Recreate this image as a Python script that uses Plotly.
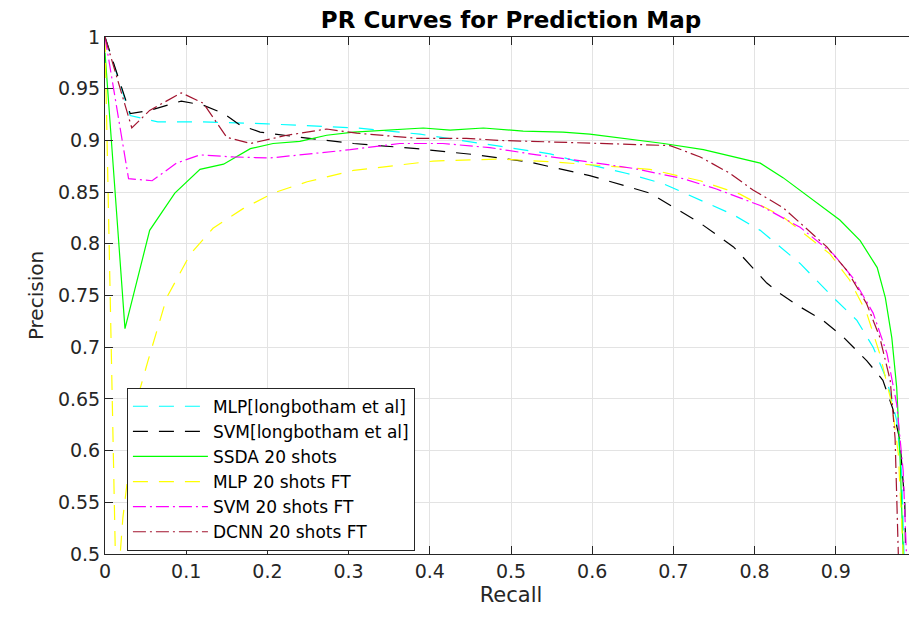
import plotly.graph_objects as go

# MLP [longbotham et al]
mlp_lb_recall = [0, 0.031, 0.065, 0.12, 0.2, 0.31, 0.388, 0.482, 0.548, 0.589, 0.643, 0.688, 0.733,
                 0.774, 0.807, 0.856, 0.897, 0.926, 0.946, 0.963, 0.975, 0.981, 0.984]
mlp_lb_prec = [1.0, 0.924, 0.918, 0.918, 0.916, 0.912, 0.906, 0.895, 0.887, 0.878, 0.868, 0.858, 0.842,
               0.828, 0.813, 0.781, 0.748, 0.726, 0.70, 0.668, 0.629, 0.58, 0.5]

# SVM [longbotham et al]
svm_lb_recall = [0, 0.031, 0.055, 0.094, 0.121, 0.146, 0.166, 0.191, 0.24, 0.306, 0.384, 0.458, 0.523,
                 0.597, 0.671, 0.733, 0.774, 0.815, 0.831, 0.856, 0.884, 0.909, 0.938, 0.958, 0.970,
                 0.979, 0.985, 0.986]
svm_lb_prec = [1.0, 0.926, 0.929, 0.938, 0.934, 0.926, 0.915, 0.908, 0.903, 0.897, 0.892, 0.886, 0.879,
               0.866, 0.849, 0.82, 0.797, 0.762, 0.752, 0.739, 0.726, 0.71, 0.687, 0.668, 0.641,
               0.61, 0.548, 0.5]

# SSDA 20 shots
ssda_recall = [0, 0.0246, 0.055, 0.086, 0.117, 0.146, 0.179, 0.207, 0.24, 0.273, 0.306, 0.392, 0.425,
               0.466, 0.515, 0.564, 0.597, 0.63, 0.688, 0.737, 0.782, 0.807, 0.835, 0.877, 0.905,
               0.93, 0.951, 0.961, 0.969, 0.975, 0.979, 0.983]
ssda_prec = [0.985, 0.718, 0.813, 0.849, 0.872, 0.877, 0.892, 0.897, 0.899, 0.905, 0.908, 0.912, 0.91,
             0.912, 0.909, 0.908, 0.906, 0.903, 0.897, 0.891, 0.883, 0.878, 0.864, 0.839, 0.823,
             0.803, 0.777, 0.748, 0.709, 0.661, 0.597, 0.5]

# MLP 20 shots FT
mlp_ft_recall = [0, 0.014, 0.022, 0.04, 0.053, 0.076, 0.105, 0.133, 0.17, 0.207, 0.249, 0.306, 0.404,
                 0.486, 0.556, 0.622, 0.671, 0.733, 0.782, 0.835, 0.893, 0.917, 0.938, 0.954, 0.969,
                 0.977, 0.983]
mlp_ft_prec = [1.0, 0.45, 0.535, 0.651, 0.687, 0.748, 0.79, 0.815, 0.834, 0.849, 0.86, 0.871, 0.88,
               0.882, 0.879, 0.875, 0.872, 0.861, 0.848, 0.826, 0.79, 0.765, 0.733, 0.694, 0.645,
               0.597, 0.5]

# SVM 20 shots FT
svm_ft_recall = [0, 0.029, 0.058, 0.088, 0.117, 0.158, 0.203, 0.24, 0.302, 0.363, 0.416, 0.474, 0.532,
                 0.597, 0.65, 0.712, 0.753, 0.807, 0.856, 0.897, 0.921, 0.946, 0.963, 0.975, 0.983, 0.987]
svm_ft_prec = [1.0, 0.863, 0.861, 0.878, 0.886, 0.884, 0.883, 0.886, 0.891, 0.897, 0.897, 0.893, 0.886,
               0.879, 0.873, 0.863, 0.853, 0.837, 0.816, 0.79, 0.767, 0.733, 0.694, 0.645, 0.58, 0.5]

# DCNN 20 shots FT
dcnn_recall = [0, 0.033, 0.055, 0.094, 0.121, 0.15, 0.179, 0.224, 0.273, 0.31, 0.384, 0.445, 0.486,
               0.569, 0.63, 0.696, 0.733, 0.77, 0.798, 0.835, 0.889, 0.914, 0.938, 0.954, 0.967,
               0.973, 0.977]
dcnn_prec = [1.0, 0.912, 0.929, 0.946, 0.936, 0.903, 0.897, 0.905, 0.911, 0.907, 0.902, 0.902, 0.9,
             0.898, 0.897, 0.895, 0.884, 0.868, 0.852, 0.835, 0.797, 0.774, 0.742, 0.71, 0.668,
             0.612, 0.5]

x_ticks = [0, 0.1, 0.2, 0.3, 0.4, 0.5, 0.6, 0.7, 0.8, 0.9, 1]
y_ticks = [0.5, 0.55, 0.6, 0.65, 0.7, 0.75, 0.8, 0.85, 0.9, 0.95, 1]

FONT = "DejaVu Sans, Liberation Sans, sans-serif"
AXIS_COLOR = "#262626"
DASH = "15px,11px"
DASHDOT = "13px,4px,2px,4px"

series = [
    ("MLP[longbotham et al]", mlp_lb_recall, mlp_lb_prec, "#00ffff", DASH),
    ("SVM[longbotham et al]", svm_lb_recall, svm_lb_prec, "#000000", DASH),
    ("SSDA 20 shots", ssda_recall, ssda_prec, "#00ff00", "solid"),
    ("MLP 20 shots FT", mlp_ft_recall, mlp_ft_prec, "#ffff00", DASH),
    ("SVM 20 shots FT", svm_ft_recall, svm_ft_prec, "#ff00ff", DASHDOT),
    ("DCNN 20 shots FT", dcnn_recall, dcnn_prec, "#a2142f", DASHDOT),
]

fig = go.Figure()
for name, r, p, color, dash in series:
    fig.add_trace(go.Scatter(x=r, y=p, mode="lines", name=name,
                             line=dict(color=color, width=1.2, dash=dash)))

axis_common = dict(
    showline=True, linecolor=AXIS_COLOR, linewidth=1, mirror="ticks",
    ticks="inside", ticklen=8, tickcolor=AXIS_COLOR,
    showgrid=True, gridcolor="#e3e3e3", gridwidth=1,
    zeroline=False, tickfont=dict(size=19, color=AXIS_COLOR, family=FONT),
)

fig.update_xaxes(range=[0, 1], tickvals=x_ticks, ticktext=[f"{t:g}" for t in x_ticks],
                 title=dict(text="Recall", font=dict(size=21, color=AXIS_COLOR), standoff=6),
                 **axis_common)
fig.update_yaxes(range=[0.5, 1], tickvals=y_ticks, ticktext=[f"{t:g}" for t in y_ticks],
                 title=dict(text="Precision", font=dict(size=20, color=AXIS_COLOR), standoff=8),
                 **axis_common)

# page body has an 8px margin, so the figure is shifted by that much
fig.update_layout(
    width=917, height=619,
    margin=dict(l=97, r=8, t=29, b=73, autoexpand=False),
    paper_bgcolor="white", plot_bgcolor="white",
    font=dict(family=FONT, color=AXIS_COLOR),
    title=dict(text="<b>PR Curves for Prediction Map</b>", x=0.5, xref="paper", xanchor="center",
               y=1 - 11.5 / 619, yanchor="middle", font=dict(size=23, color="#000000")),
    legend=dict(x=0.027, y=0.164, xanchor="left", yanchor="middle",
                bgcolor="white", bordercolor=AXIS_COLOR, borderwidth=1,
                itemwidth=75, font=dict(size=17, color="#000000"), tracegroupgap=0),
    showlegend=True,
)

fig.write_html("out.html")
